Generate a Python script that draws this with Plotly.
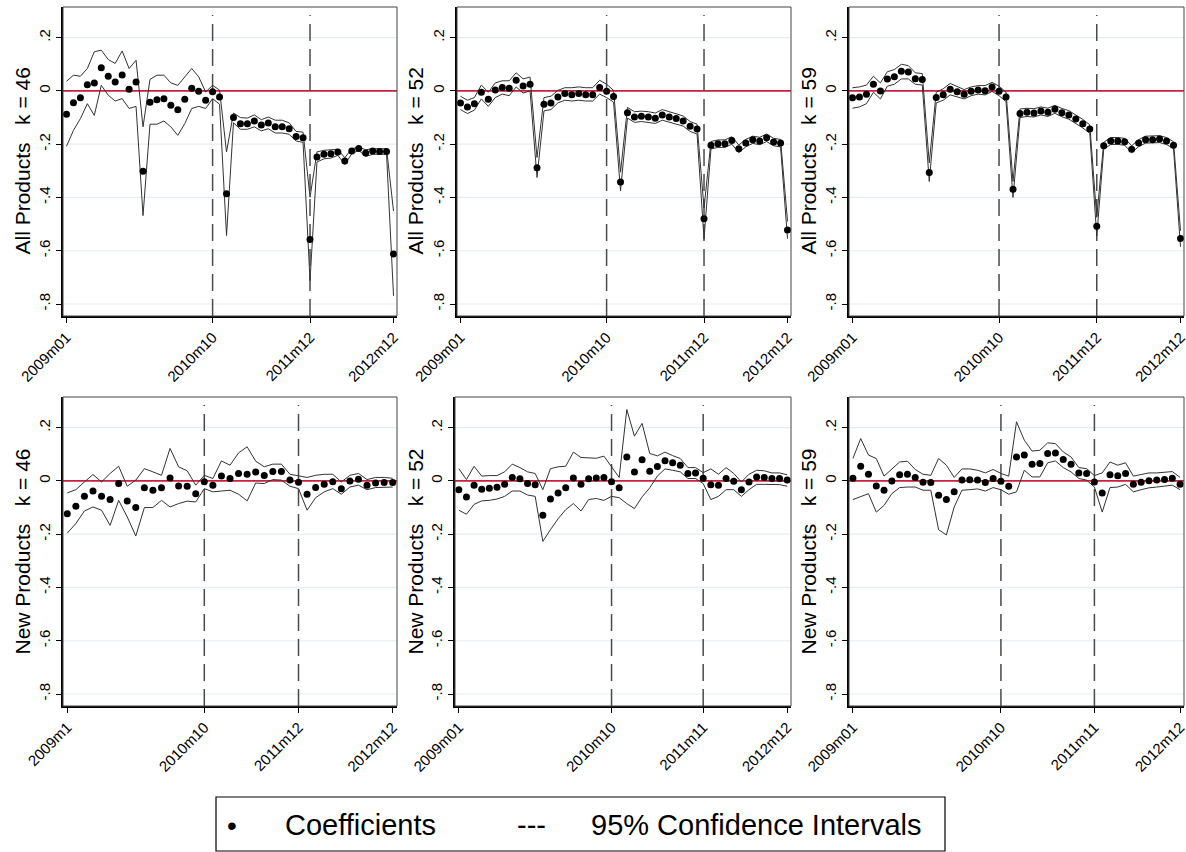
import plotly.graph_objects as go

W, H = 1186, 852

# ---------------- data ----------------
ticklabels_a = ["2009m01", "2010m10", "2011m12", "2012m12"]
ticklabels_b = ["2009m1", "2010m10", "2011m12", "2012m12"]
ticklabels_c = ["2009m01", "2010m10", "2011m11", "2012m12"]

ytick_vals = [-0.8, -0.6, -0.4, -0.2, 0, 0.2]
ytick_text = ["-.8", "-.6", "-.4", "-.2", "0", ".2"]

# All products, k = 46 (48 monthly coefficients)
all46_ticks = [0, 21, 35, 47]
all46_coef = [-0.088, -0.044, -0.026, 0.023, 0.030, 0.087, 0.055, 0.033, 0.060, 0.006, 0.033,
              -0.302, -0.043, -0.033, -0.029, -0.054, -0.071, -0.031, 0.010, -0.001, -0.035, -0.003,
              -0.023, -0.386, -0.100, -0.123, -0.123, -0.113, -0.128, -0.120, -0.135, -0.135, -0.142,
              -0.171, -0.176, -0.558, -0.248, -0.238, -0.236, -0.229, -0.263, -0.226, -0.216, -0.233,
              -0.226, -0.227, -0.227, -0.612]
all46_up = [0.036, 0.059, 0.055, 0.084, 0.147, 0.153, 0.118, 0.103, 0.150, 0.084, 0.115,
            -0.135, 0.043, 0.059, 0.059, 0.030, 0.021, 0.053, 0.084, 0.053, -0.004, 0.021,
            0.003, -0.229, -0.083, -0.100, -0.102, -0.090, -0.108, -0.098, -0.110, -0.110, -0.120,
            -0.152, -0.155, -0.399, -0.229, -0.223, -0.221, -0.219, -0.251, -0.217, -0.211, -0.221,
            -0.217, -0.217, -0.217, -0.451]
all46_lo = [-0.208, -0.148, -0.104, -0.048, -0.092, 0.021, -0.016, -0.038, -0.029, -0.066, -0.058,
            -0.468, -0.125, -0.125, -0.113, -0.135, -0.167, -0.123, -0.066, -0.058, -0.066, -0.029,
            -0.050, -0.543, -0.120, -0.144, -0.144, -0.135, -0.150, -0.142, -0.158, -0.158, -0.163,
            -0.188, -0.193, -0.712, -0.267, -0.255, -0.252, -0.242, -0.276, -0.236, -0.223, -0.246,
            -0.238, -0.238, -0.238, -0.769]

# All products, k = 52
all52_ticks = [0, 21, 35, 47]
all52_coef = [-0.045, -0.060, -0.048, -0.005, -0.031, 0.003, 0.013, 0.010, 0.040, 0.018, 0.025,
              -0.288, -0.050, -0.045, -0.023, -0.010, -0.014, -0.010, -0.014, -0.014, 0.013, -0.001,
              -0.021, -0.342, -0.082, -0.098, -0.095, -0.098, -0.103, -0.090, -0.098, -0.104, -0.113,
              -0.133, -0.143, -0.480, -0.204, -0.198, -0.198, -0.186, -0.217, -0.196, -0.183, -0.188,
              -0.176, -0.192, -0.196, -0.522]
all52_up = [-0.020, -0.035, -0.025, 0.022, -0.005, 0.030, 0.038, 0.038, 0.068, 0.045, 0.052,
            -0.250, -0.025, -0.020, 0.002, 0.012, 0.012, 0.015, 0.012, 0.012, 0.040, 0.025,
            0.002, -0.305, -0.062, -0.078, -0.076, -0.078, -0.083, -0.070, -0.078, -0.085, -0.094,
            -0.115, -0.125, -0.440, -0.190, -0.184, -0.184, -0.172, -0.203, -0.182, -0.170, -0.174,
            -0.162, -0.178, -0.182, -0.490]
all52_lo = [-0.070, -0.085, -0.072, -0.030, -0.058, -0.025, -0.012, -0.018, 0.015, -0.008, 0.000,
            -0.325, -0.075, -0.070, -0.045, -0.035, -0.038, -0.035, -0.038, -0.038, -0.012, -0.025,
            -0.042, -0.375, -0.102, -0.118, -0.115, -0.118, -0.122, -0.110, -0.118, -0.124, -0.132,
            -0.152, -0.162, -0.555, -0.218, -0.212, -0.212, -0.200, -0.232, -0.210, -0.197, -0.202,
            -0.190, -0.206, -0.210, -0.555]

# All products, k = 59
all59_ticks = [0, 21, 35, 47]
all59_coef = [-0.026, -0.023, -0.013, 0.025, 0.000, 0.045, 0.053, 0.074, 0.071, 0.046, 0.043,
              -0.306, -0.025, -0.014, 0.006, -0.003, -0.013, -0.001, 0.003, 0.001, 0.015, -0.001,
              -0.023, -0.369, -0.085, -0.080, -0.083, -0.075, -0.080, -0.069, -0.082, -0.090, -0.105,
              -0.123, -0.143, -0.508, -0.206, -0.188, -0.188, -0.191, -0.219, -0.196, -0.183, -0.183,
              -0.181, -0.188, -0.204, -0.554]
all59_up = [0.012, 0.015, 0.022, 0.055, 0.030, 0.072, 0.080, 0.100, 0.095, 0.068, 0.065,
            -0.270, -0.005, 0.008, 0.028, 0.015, 0.005, 0.015, 0.020, 0.020, 0.032, 0.018,
            -0.005, -0.340, -0.068, -0.065, -0.067, -0.060, -0.065, -0.054, -0.066, -0.074, -0.089,
            -0.107, -0.127, -0.475, -0.193, -0.175, -0.175, -0.178, -0.206, -0.183, -0.170, -0.170,
            -0.168, -0.175, -0.191, -0.525]
all59_lo = [-0.065, -0.060, -0.048, -0.005, -0.030, 0.018, 0.025, 0.045, 0.045, 0.025, 0.022,
            -0.340, -0.045, -0.035, -0.015, -0.022, -0.030, -0.018, -0.012, -0.015, -0.002, -0.018,
            -0.040, -0.400, -0.100, -0.096, -0.098, -0.090, -0.096, -0.084, -0.097, -0.106, -0.121,
            -0.139, -0.159, -0.545, -0.219, -0.201, -0.201, -0.204, -0.232, -0.209, -0.196, -0.196,
            -0.194, -0.201, -0.217, -0.585]

# New products, k = 46 (39 coefficients)
new46_ticks = [0, 16, 27, 38]
new46_coef = [-0.123, -0.095, -0.058, -0.038, -0.058, -0.070, -0.010, -0.075, -0.100, -0.026,
              -0.035, -0.026, 0.011, -0.019, -0.020, -0.048, -0.003, -0.016, 0.018, 0.009,
              0.028, 0.025, 0.033, 0.020, 0.035, 0.035, 0.003, -0.005, -0.050, -0.025,
              -0.013, -0.003, -0.029, 0.000, 0.006, -0.016, -0.008, -0.006, -0.006]
new46_up = [-0.045, -0.033, -0.004, 0.024, -0.004, 0.028, 0.055, -0.020, 0.003, 0.046,
            0.034, 0.021, 0.122, 0.053, 0.038, -0.016, 0.021, 0.009, 0.075, 0.059,
            0.105, 0.128, 0.074, 0.053, 0.063, 0.063, 0.025, 0.018, 0.013, 0.021,
            0.025, 0.025, -0.004, 0.021, 0.028, 0.005, 0.013, 0.013, 0.010]
new46_lo = [-0.196, -0.160, -0.113, -0.098, -0.110, -0.167, -0.073, -0.135, -0.207, -0.100,
            -0.100, -0.073, -0.098, -0.085, -0.076, -0.079, -0.029, -0.041, -0.038, -0.035,
            -0.050, -0.075, -0.008, -0.010, 0.005, 0.003, -0.020, -0.029, -0.110, -0.063,
            -0.041, -0.029, -0.050, -0.023, -0.016, -0.033, -0.025, -0.025, -0.023]

# New products, k = 52 (44 coefficients)
new52_ticks = [0, 20, 32, 43]
new52_coef = [-0.033, -0.060, -0.016, -0.031, -0.028, -0.024, -0.013, 0.013, 0.008, -0.010,
              -0.014, -0.129, -0.068, -0.045, -0.026, 0.011, -0.013, 0.008, 0.011, 0.013,
              -0.003, -0.026, 0.090, 0.033, 0.079, 0.036, 0.054, 0.076, 0.068, 0.059,
              0.028, 0.030, 0.010, -0.014, -0.016, 0.009, -0.001, -0.033, -0.004, 0.015,
              0.013, 0.009, 0.009, 0.003]
new52_up = [0.046, 0.005, 0.055, 0.018, 0.020, 0.020, 0.034, 0.063, 0.050, 0.034,
            0.028, -0.033, 0.046, 0.053, 0.055, 0.108, 0.088, 0.087, 0.085, 0.093,
            0.053, 0.013, 0.268, 0.168, 0.216, 0.103, 0.094, 0.108, 0.095, 0.084,
            0.050, 0.050, 0.031, 0.045, 0.025, 0.050, 0.028, -0.004, 0.025, 0.040,
            0.038, 0.030, 0.030, 0.023]
new52_lo = [-0.110, -0.125, -0.088, -0.075, -0.073, -0.068, -0.058, -0.038, -0.038, -0.053,
            -0.058, -0.227, -0.183, -0.142, -0.108, -0.085, -0.113, -0.070, -0.066, -0.073,
            -0.058, -0.063, -0.085, -0.104, -0.060, -0.026, 0.018, 0.045, 0.040, 0.034,
            0.009, 0.009, -0.010, -0.070, -0.058, -0.033, -0.033, -0.058, -0.033, -0.013,
            -0.013, -0.014, -0.014, -0.020]

# New products, k = 59 (43 coefficients)
new59_ticks = [0, 19, 31, 42]
new59_coef = [0.010, 0.055, 0.025, -0.019, -0.035, 0.000, 0.023, 0.025, 0.013, -0.005,
              -0.006, -0.054, -0.070, -0.041, 0.003, 0.004, 0.003, -0.006, 0.009, -0.001,
              -0.020, 0.090, 0.097, 0.063, 0.065, 0.103, 0.105, 0.080, 0.063, 0.030,
              0.028, -0.004, -0.045, 0.023, 0.019, 0.028, -0.013, -0.005, 0.001, 0.003,
              0.005, 0.010, -0.013]
new59_up = [0.084, 0.159, 0.097, 0.084, 0.018, 0.046, 0.071, 0.074, 0.043, 0.025,
            0.021, 0.084, 0.059, 0.013, 0.045, 0.045, 0.040, 0.030, 0.043, 0.028,
            0.018, 0.222, 0.153, 0.112, 0.115, 0.143, 0.140, 0.109, 0.090, 0.050,
            0.046, 0.020, 0.030, 0.071, 0.059, 0.068, 0.018, 0.024, 0.030, 0.030,
            0.033, 0.035, 0.013]
new59_lo = [-0.070, -0.058, -0.048, -0.117, -0.092, -0.048, -0.025, -0.023, -0.023, -0.035,
            -0.035, -0.183, -0.203, -0.098, -0.035, -0.033, -0.030, -0.038, -0.025, -0.033,
            -0.050, -0.041, 0.040, 0.015, 0.015, 0.068, 0.075, 0.050, 0.034, 0.009,
            0.003, -0.023, -0.117, -0.025, -0.023, -0.013, -0.041, -0.033, -0.026, -0.023,
            -0.020, -0.016, -0.033]

# ---------------- layout helpers ----------------
FONT = "Liberation Sans, Arial, sans-serif"
YR = [-0.845, 0.315]

panels = [
    dict(coef=all46_coef, up=all46_up, lo=all46_lo, ticks=all46_ticks, labels=ticklabels_a,
         title="All Products\u00a0\u00a0\u00a0k = 46", px=(63, 397), py=(7, 316), tx=22),
    dict(coef=all52_coef, up=all52_up, lo=all52_lo, ticks=all52_ticks, labels=ticklabels_a,
         title="All Products\u00a0\u00a0\u00a0k = 52", px=(457, 791), py=(7, 316), tx=415),
    dict(coef=all59_coef, up=all59_up, lo=all59_lo, ticks=all59_ticks, labels=ticklabels_a,
         title="All Products\u00a0\u00a0\u00a0k = 59", px=(849, 1184), py=(7, 316), tx=808),
    dict(coef=new46_coef, up=new46_up, lo=new46_lo, ticks=new46_ticks, labels=ticklabels_b,
         title="New Products\u00a0\u00a0\u00a0k = 46", px=(63, 397), py=(397, 706), tx=22),
    dict(coef=new52_coef, up=new52_up, lo=new52_lo, ticks=new52_ticks, labels=ticklabels_c,
         title="New Products\u00a0\u00a0\u00a0k = 52", px=(455, 791), py=(397, 706), tx=415),
    dict(coef=new59_coef, up=new59_up, lo=new59_lo, ticks=new59_ticks, labels=ticklabels_c,
         title="New Products\u00a0\u00a0\u00a0k = 59", px=(849, 1184), py=(397, 706), tx=808),
]

fig = go.Figure()
shapes = []
annotations = []
layout = {}

for k, p in enumerate(panels, start=1):
    xa = "x" if k == 1 else f"x{k}"
    ya = "y" if k == 1 else f"y{k}"
    n = len(p["coef"])
    xs = list(range(n))
    line_style = dict(color="#333333", width=1)
    fig.add_trace(go.Scatter(x=xs, y=p["up"], mode="lines", line=line_style,
                             xaxis=xa, yaxis=ya, showlegend=False, hoverinfo="skip"))
    fig.add_trace(go.Scatter(x=xs, y=p["lo"], mode="lines", line=line_style,
                             xaxis=xa, yaxis=ya, showlegend=False, hoverinfo="skip"))
    fig.add_trace(go.Scatter(x=xs, y=p["coef"], mode="markers",
                             marker=dict(color="black", size=7, line=dict(width=0)),
                             xaxis=xa, yaxis=ya, showlegend=False))

    x0, x1 = p["px"]
    y0, y1 = p["py"]
    xkey = "xaxis" if k == 1 else f"xaxis{k}"
    ykey = "yaxis" if k == 1 else f"yaxis{k}"
    layout[xkey] = dict(
        domain=[x0 / W, x1 / W], anchor=ya, range=[-0.5, n - 0.5], automargin=False,
        tickmode="array", tickvals=p["ticks"], ticktext=p["labels"],
        tickangle=-45, ticks="outside", ticklen=5, tickcolor="black", tickwidth=1,
        ticklabeloverflow="allow",
        showline=True, linecolor="black", linewidth=1.6, mirror=False,
        showgrid=False, zeroline=False,
        tickfont=dict(family=FONT, size=15, color="black"),
    )
    layout[ykey] = dict(
        domain=[1 - y1 / H, 1 - y0 / H], anchor=xa, range=YR, automargin=False,
        tickmode="array", tickvals=ytick_vals, ticktext=ytick_text,
        tickangle=-90, ticks="outside", ticklen=5, tickcolor="black", tickwidth=1,
        ticklabeloverflow="allow",
        showline=True, linecolor="black", linewidth=1.6, mirror=False,
        showgrid=False, zeroline=False,
        tickfont=dict(family=FONT, size=15, color="black"),
    )
    # light horizontal grid lines at the y ticks (drawn as shapes so the red line stays on top)
    for v in ytick_vals:
        if v == 0:
            continue
        shapes.append(dict(type="line", xref=f"{xa} domain", yref=ya, x0=0, x1=1, y0=v, y1=v,
                           line=dict(color="#e4edf0", width=1.2), layer="below"))
    # dashed vertical reference lines at middle ticks
    for t in p["ticks"][1:3]:
        shapes.append(dict(type="line", xref=xa, yref=ya, x0=t, x1=t, y0=YR[0], y1=0.285,
                           line=dict(color="#4a4a4a", width=1.5, dash="17px,8px"), layer="below"))
    # red zero line
    shapes.append(dict(type="line", xref=f"{xa} domain", yref=ya, x0=0, x1=1, y0=0, y1=0,
                       line=dict(color="#c8203f", width=1.6), layer="below"))
    # plot region frame
    shapes.append(dict(type="rect", xref=f"{xa} domain", yref=f"{ya} domain",
                       x0=0, x1=1, y0=0, y1=1, line=dict(color="#444", width=1),
                       fillcolor="rgba(0,0,0,0)", layer="above"))
    annotations.append(dict(text=p["title"], x=p["tx"] / W, y=1 - (y0 + y1) / 2 / H,
                            xref="paper", yref="paper", showarrow=False, textangle=-90,
                            xanchor="center", yanchor="middle",
                            font=dict(family=FONT, size=21, color="black")))

# legend box
shapes.append(dict(type="rect", xref="paper", yref="paper",
                   x0=216 / W, x1=945 / W, y0=1 - 851 / H, y1=1 - 797 / H,
                   line=dict(color="black", width=1.2), fillcolor="rgba(0,0,0,0)"))
leg_y = 1 - 825 / H
for txt, xc, sz in [("\u2022", 232, 28), ("Coefficients", 360, 29), ("---", 531, 29),
                    ("95% Confidence Intervals", 756, 29)]:
    annotations.append(dict(text=txt, x=xc / W, y=leg_y, xref="paper", yref="paper",
                            showarrow=False, xanchor="center", yanchor="middle",
                            font=dict(family=FONT, size=sz, color="black")))

fig.update_layout(
    template="none",
    width=W, height=H, margin=dict(l=0, r=0, t=0, b=0, pad=0),
    paper_bgcolor="white", plot_bgcolor="white",
    shapes=shapes, annotations=annotations, showlegend=False,
    **layout,
)

fig.write_html("out.html")
